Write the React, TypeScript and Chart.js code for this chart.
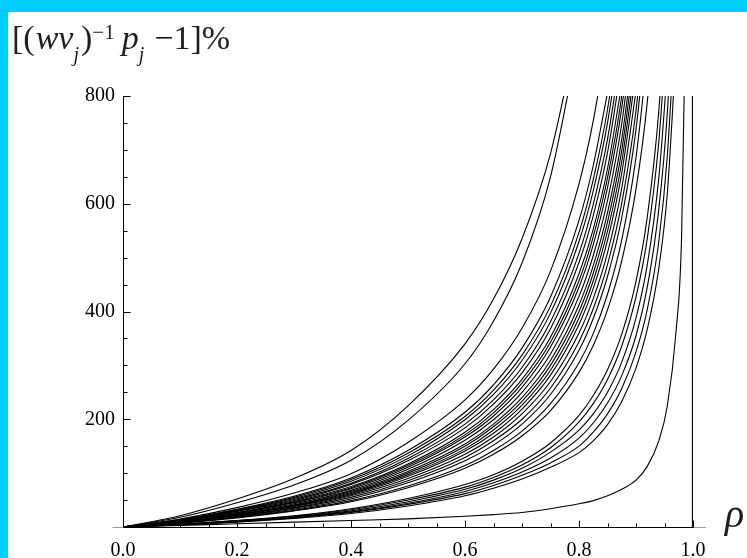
import React, { useEffect, useRef } from "react";
import { Chart, registerables } from "chart.js";

Chart.register(...registerables);

// rho values at which every curve is sampled (a curve stops once it leaves the 0–800 window)
const rhoGrid = [0, 0.1, 0.2, 0.3, 0.4, 0.5, 0.6, 0.65, 0.7, 0.75, 0.8, 0.825, 0.85, 0.875, 0.9, 0.92, 0.94, 0.955, 0.97, 0.98, 0.99];

const xTickValues = [0, 0.2, 0.4, 0.6, 0.8, 1.0];
const xTickLabels = ["0.0", "0.2", "0.4", "0.6", "0.8", "1.0"];
const yTickValues = [200, 400, 600, 800];
const yTickLabels = ["200", "400", "600", "800"];

// the three steepest curves
const topCurves = [
  [0, 21, 52, 90, 142, 225, 340, 423, 535, 693, 936],
  [0, 18, 45, 78, 124, 198, 303, 382, 490, 650, 910],
  [0, 15, 36, 63, 99, 157, 236, 293, 369, 475, 637, 754, 910],
];

// the dense central bundle
const bundleCurves = [
  [0, 14, 33, 57, 91, 142, 213, 264, 332, 427, 569, 671, 806],
  [0, 13, 32, 55, 88, 137, 205, 254, 319, 410, 547, 645, 775, 958],
  [0, 13, 31, 53, 85, 132, 199, 246, 309, 397, 530, 624, 750, 927],
  [0, 12, 30, 51, 81, 127, 191, 236, 296, 381, 508, 599, 720, 889],
  [0, 12, 29, 49, 79, 123, 184, 228, 286, 368, 491, 578, 695, 859],
  [0, 11, 27, 47, 75, 117, 176, 218, 274, 352, 470, 553, 665, 822],
  [0, 11, 27, 46, 73, 114, 171, 212, 267, 343, 457, 539, 648, 800, 1029],
  [0, 11, 26, 45, 71, 111, 167, 206, 259, 334, 445, 524, 630, 778, 1001],
  [0, 10, 25, 43, 68, 107, 161, 199, 250, 321, 428, 504, 606, 749, 963],
  [0, 10, 24, 41, 66, 103, 154, 191, 240, 309, 412, 485, 583, 720, 926],
  [0, 10, 23, 40, 64, 100, 150, 186, 233, 300, 400, 471, 566, 699, 899],
  [0, 9, 23, 39, 62, 97, 145, 180, 226, 291, 388, 457, 549, 678, 872],
  [0, 9, 22, 38, 60, 94, 141, 174, 219, 282, 376, 443, 532, 657, 845],
  [0, 9, 21, 36, 58, 90, 135, 167, 210, 270, 360, 424, 509, 629, 809],
  [0, 8, 20, 35, 55, 86, 129, 160, 200, 258, 344, 405, 487, 601, 773, 988],
  [0, 8, 19, 33, 52, 82, 123, 152, 191, 246, 328, 387, 465, 574, 738, 943],
  [0, 7, 18, 31, 49, 76, 114, 142, 178, 229, 305, 359, 432, 533, 686, 876],
  [0, 7, 17, 30, 47, 73, 109, 135, 169, 216, 287, 337, 403, 494, 627, 791, 1053],
];

// the lower group
const lowCurves = [
  [0, 5, 12, 21, 34, 53, 79, 97, 122, 156, 207, 244, 292, 358, 456, 577, 772, 1022],
  [0, 5, 12, 20, 32, 50, 74, 92, 115, 147, 195, 229, 274, 336, 427, 537, 715, 938],
  [0, 5, 11, 19, 30, 47, 70, 87, 109, 139, 180, 210, 250, 306, 388, 488, 648, 850],
  [0, 4, 10, 18, 28, 44, 66, 82, 102, 128, 165, 193, 230, 281, 355, 446, 590, 770, 1080],
  [0, 4, 10, 17, 27, 42, 62, 77, 96, 119, 150, 176, 210, 257, 325, 405, 530, 690, 960],
  [0, 4, 9, 16, 25, 39, 58, 72, 89, 111, 138, 160, 190, 233, 295, 368, 480, 620, 880],
];

// the flattest curve
const lowestCurve = [0, 3, 6, 9, 12, 15, 20, 23, 27, 34, 43, 49, 58, 70, 87, 113, 160, 225, 360, 540, 1150];

// vertical limit at rho = 1
const limitRho = [1, 1];
const limitValue = [0, 800];

const SERIF = '"Liberation Serif", "Times New Roman", serif';

function toPoints(values: number[]) {
  return values.map((v, i) => ({ x: rhoGrid[i], y: v }));
}

const axesPlugin = {
  id: "mmaAxes",
  afterDatasetsDraw(chart: any) {
    const { ctx, scales } = chart;
    const xs = scales.x;
    const ys = scales.y;
    const x0 = Math.round(xs.getPixelForValue(0)) + 0.5;
    const x1 = Math.round(xs.getPixelForValue(1)) + 0.5;
    const y0 = Math.round(ys.getPixelForValue(0)) + 0.5;
    const y1 = Math.round(ys.getPixelForValue(800)) + 0.5;
    const seg = (a: number, b: number, c: number, d: number) => {
      ctx.beginPath();
      ctx.moveTo(a, b);
      ctx.lineTo(c, d);
      ctx.stroke();
    };
    ctx.save();
    ctx.lineWidth = 1;
    ctx.strokeStyle = "#9a9a9a";
    seg(x0 - 11, y0, x0, y0);
    seg(x1, y0, x1 + 12, y0);
    ctx.strokeStyle = "#000";
    seg(x0, y0, x1, y0);
    seg(x0, y0, x0, y1 - 0.5);
    for (let i = 1; i <= 20; i++) {
      const v = i * 0.05;
      const px = Math.round(xs.getPixelForValue(v)) + 0.5;
      const len = i % 4 === 0 ? 7 : 4;
      seg(px, y0, px, y0 - len);
    }
    for (let i = 1; i <= 16; i++) {
      const v = i * 50;
      const py = Math.round(ys.getPixelForValue(v)) + 0.5;
      const len = i % 4 === 0 ? 7 : 4;
      seg(x0, py, x0 + len, py);
    }
    ctx.restore();
  },
};

export default function App() {
  const canvasRef = useRef<HTMLCanvasElement | null>(null);

  useEffect(() => {
    const canvas = canvasRef.current;
    if (!canvas) return;
    const curveSets = [...topCurves, ...bundleCurves, ...lowCurves, lowestCurve];
    const datasets: any[] = curveSets.map((vals) => ({
      data: toPoints(vals),
      borderColor: "#000",
      borderWidth: 1.1,
      pointRadius: 0,
      cubicInterpolationMode: "monotone",
      fill: false,
    }));
    datasets.push({
      data: limitRho.map((r, i) => ({ x: r, y: limitValue[i] })),
      borderColor: "#000",
      borderWidth: 2.2,
      pointRadius: 0,
      fill: false,
    });

    const chart = new Chart(canvas, {
      type: "line",
      data: { datasets },
      plugins: [axesPlugin],
      options: {
        animation: false,
        responsive: false,
        maintainAspectRatio: false,
        layout: { padding: { top: 96, right: 54, left: 0, bottom: 0 } },
        plugins: { legend: { display: false }, tooltip: { enabled: false } },
        elements: { line: { capBezierPoints: false } as any, point: { radius: 0 } },
        scales: {
          x: {
            type: "linear",
            min: 0,
            max: 1,
            grid: { display: false, drawTicks: false },
            border: { display: false },
            afterBuildTicks: (s: any) => {
              s.ticks = xTickValues.map((v) => ({ value: v }));
            },
            afterFit: (s: any) => {
              s.height = 31;
            },
            ticks: {
              padding: 12,
              autoSkip: false,
              maxRotation: 0,
              color: "#000",
              font: { family: SERIF, size: 20 },
              callback: (_v: any, i: number) => xTickLabels[i],
            },
          },
          y: {
            type: "linear",
            min: 0,
            max: 800,
            grid: { display: false, drawTicks: false },
            border: { display: false },
            afterBuildTicks: (s: any) => {
              s.ticks = yTickValues.map((v) => ({ value: v }));
            },
            afterFit: (s: any) => {
              s.width = 123;
            },
            ticks: {
              padding: 8,
              autoSkip: false,
              color: "#000",
              font: { family: SERIF, size: 20 },
              callback: (_v: any, i: number) => yTickLabels[i],
            },
          },
        },
      } as any,
    });
    return () => chart.destroy();
  }, []);

  const sub = { position: "relative" as const, top: 12, fontSize: 20, fontStyle: "italic" as const };

  return (
    <div style={{ position: "fixed", left: 0, top: 0, width: 747, height: 558, background: "#00CCFF", overflow: "hidden" }}>
      <div style={{ position: "absolute", left: 8, top: 12, width: 739, height: 546, background: "#fff" }} />
      <canvas ref={canvasRef} width={747} height={558} style={{ position: "absolute", left: 0, top: 0, width: 747, height: 558 }} />
      <div
        style={{
          position: "absolute",
          left: 12,
          top: 21,
          fontFamily: SERIF,
          fontSize: 34,
          lineHeight: "34px",
          whiteSpace: "nowrap",
          color: "#1e1e1e",
        }}
      >
        [(<i style={{ marginLeft: 1 }}>wv</i>
        <span style={sub}>j</span>
        <span style={{ marginLeft: 2 }}>)</span>
        <span style={{ position: "relative", top: -10, fontSize: 21 }}>−1</span>
        <i style={{ marginLeft: 7 }}>p</i>
        <span style={sub}>j</span>
        <span style={{ marginLeft: 10 }}>−1]%</span>
      </div>
      <div
        style={{
          position: "absolute",
          left: 725,
          top: 494,
          fontFamily: SERIF,
          fontSize: 40,
          lineHeight: "40px",
          fontStyle: "italic",
          color: "#1e1e1e",
        }}
      >
        ρ
      </div>
    </div>
  );
}
